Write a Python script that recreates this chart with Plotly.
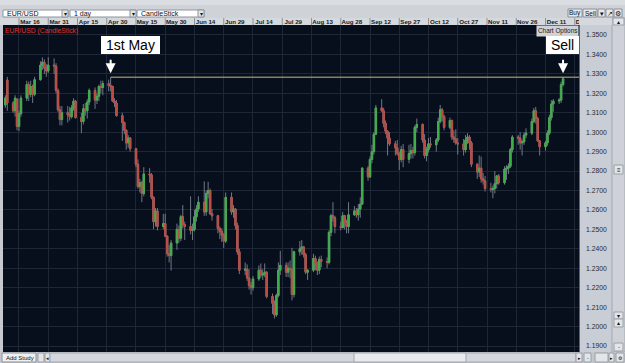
import pandas as pd
import plotly.graph_objects as go

# ---------------- data (EUR/USD daily) ----------------
dates = pd.bdate_range("2012-03-08", "2012-12-19")

open_ = [
    # Mar
    1.3140, 1.3268, 1.3150, 1.3110, 1.3170, 1.3030, 1.3095, 1.3175, 1.3245, 1.3195, 1.3235, 1.3195, 1.3270, 1.3345, 1.3360, 1.3330, 1.3315,
    # Apr
    1.3345, 1.3340, 1.3215, 1.3115, 1.3065, 1.3100, 1.3090, 1.3080, 1.3125, 1.3160, 1.3075, 1.3055, 1.3120, 1.3110, 1.3155, 1.3215, 1.3165, 1.3185, 1.3235, 1.3230, 1.3250,
    # May
    1.3240, 1.3235, 1.3160, 1.3150, 1.3085, 1.3050, 1.3010, 1.2945, 1.2970, 1.2915, 1.2835, 1.2720, 1.2740, 1.2685, 1.2785, 1.2780, 1.2665, 1.2540, 1.2595, 1.2515, 1.2530, 1.2465, 1.2375,
    # Jun
    1.2365, 1.2430, 1.2500, 1.2455, 1.2565, 1.2525, 1.2515, 1.2495, 1.2500, 1.2565, 1.2605, 1.2640, 1.2590, 1.2685, 1.2700, 1.2580, 1.2570, 1.2505, 1.2490, 1.2470, 1.2440,
    # Jul
    1.2665, 1.2590, 1.2605, 1.2520, 1.2385, 1.2290, 1.2295, 1.2250, 1.2210, 1.2200, 1.2245, 1.2290, 1.2265, 1.2270, 1.2280, 1.2155, 1.2120, 1.2060, 1.2160, 1.2290, 1.2315, 1.2280,
    # Aug
    1.2300, 1.2295, 1.2165, 1.2385, 1.2400, 1.2410, 1.2370, 1.2280, 1.2290, 1.2350, 1.2325, 1.2290, 1.2345, 1.2335, 1.2330, 1.2485, 1.2570, 1.2560, 1.2515, 1.2510, 1.2570, 1.2535, 1.2515,
    # Sep
    1.2575, 1.2595, 1.2575, 1.2605, 1.2630, 1.2815, 1.2770, 1.2860, 1.2900, 1.2990, 1.3125, 1.3110, 1.3045, 1.3005, 1.2970, 1.2940, 1.2920, 1.2890, 1.2860, 1.2910,
    # Oct
    1.2860, 1.2890, 1.2905, 1.2895, 1.3025, 1.3040, 1.2960, 1.2880, 1.2910, 1.2940, 1.2935, 1.2960, 1.3055, 1.3115, 1.3080, 1.3025, 1.3060, 1.2975, 1.2965, 1.2945, 1.2940, 1.2910, 1.2960,
    # Nov
    1.2975, 1.2945, 1.2835, 1.2795, 1.2815, 1.2760, 1.2750, 1.2710, 1.2705, 1.2710, 1.2735, 1.2775, 1.2740, 1.2810, 1.2815, 1.2825, 1.2910, 1.2975, 1.2970, 1.2945, 1.2950, 1.2985,
    # Dec
    1.2995, 1.3055, 1.3110, 1.3070, 1.2955, 1.2925, 1.2945, 1.2995, 1.3075, 1.3145, 1.3160, 1.3165, 1.3245,
]
high = [
    1.3190, 1.3285, 1.3160, 1.3190, 1.3175, 1.3110, 1.3190, 1.3265, 1.3260, 1.3265, 1.3245, 1.3285, 1.3365, 1.3385, 1.3375, 1.3350, 1.3385,
    1.3380, 1.3355, 1.3225, 1.3135, 1.3135, 1.3135, 1.3130, 1.3140, 1.3175, 1.3165, 1.3100, 1.3145, 1.3150, 1.3170, 1.3225, 1.3230, 1.3200, 1.3245, 1.3265, 1.3265, 1.3270,
    1.3283, 1.3240, 1.3175, 1.3165, 1.3100, 1.3055, 1.3015, 1.2985, 1.2975, 1.2920, 1.2860, 1.2760, 1.2750, 1.2820, 1.2815, 1.2790, 1.2670, 1.2610, 1.2610, 1.2580, 1.2580, 1.2470, 1.2420,
    1.2445, 1.2530, 1.2520, 1.2575, 1.2625, 1.2540, 1.2670, 1.2530, 1.2600, 1.2625, 1.2670, 1.2747, 1.2700, 1.2745, 1.2710, 1.2605, 1.2575, 1.2515, 1.2505, 1.2480, 1.2690,
    1.2690, 1.2625, 1.2610, 1.2535, 1.2400, 1.2330, 1.2320, 1.2295, 1.2230, 1.2260, 1.2315, 1.2325, 1.2295, 1.2325, 1.2285, 1.2170, 1.2135, 1.2170, 1.2330, 1.2390, 1.2330, 1.2330,
    1.2340, 1.2405, 1.2390, 1.2440, 1.2445, 1.2415, 1.2380, 1.2295, 1.2375, 1.2365, 1.2335, 1.2360, 1.2365, 1.2355, 1.2495, 1.2580, 1.2640, 1.2570, 1.2540, 1.2590, 1.2575, 1.2550, 1.2640,
    1.2620, 1.2610, 1.2630, 1.2665, 1.2820, 1.2825, 1.2875, 1.2935, 1.3000, 1.3140, 1.3170, 1.3125, 1.3060, 1.3010, 1.3000, 1.2955, 1.2960, 1.2900, 1.2930, 1.2940,
    1.2935, 1.2940, 1.2925, 1.3035, 1.3070, 1.3045, 1.2990, 1.2925, 1.2970, 1.2975, 1.2970, 1.3075, 1.3140, 1.3125, 1.3090, 1.3075, 1.3065, 1.3010, 1.3015, 1.2970, 1.2965, 1.2985, 1.2995,
    1.2985, 1.2955, 1.2840, 1.2880, 1.2875, 1.2790, 1.2775, 1.2740, 1.2725, 1.2800, 1.2780, 1.2785, 1.2825, 1.2830, 1.2840, 1.2920, 1.2985, 1.2985, 1.3000, 1.2960, 1.3000, 1.3020,
    1.3070, 1.3125, 1.3130, 1.3080, 1.2960, 1.2955, 1.3010, 1.3090, 1.3165, 1.3170, 1.3175, 1.3260, 1.3283,
]
low = [
    1.3125, 1.3110, 1.3100, 1.3080, 1.3010, 1.3005, 1.3080, 1.3160, 1.3160, 1.3180, 1.3150, 1.3185, 1.3265, 1.3320, 1.3300, 1.3285, 1.3305,
    1.3300, 1.3200, 1.3105, 1.3035, 1.3035, 1.3050, 1.3060, 1.3070, 1.3110, 1.3070, 1.2995, 1.3040, 1.3085, 1.3070, 1.3140, 1.3120, 1.3145, 1.3160, 1.3200, 1.3190, 1.3210,
    1.3210, 1.3155, 1.3130, 1.3080, 1.2955, 1.2990, 1.2910, 1.2920, 1.2900, 1.2820, 1.2710, 1.2690, 1.2640, 1.2670, 1.2740, 1.2655, 1.2500, 1.2515, 1.2495, 1.2500, 1.2460, 1.2360, 1.2330,
    1.2288, 1.2395, 1.2430, 1.2440, 1.2505, 1.2445, 1.2475, 1.2445, 1.2490, 1.2540, 1.2590, 1.2570, 1.2570, 1.2660, 1.2575, 1.2545, 1.2480, 1.2450, 1.2435, 1.2405, 1.2430,
    1.2575, 1.2560, 1.2500, 1.2370, 1.2270, 1.2265, 1.2235, 1.2190, 1.2165, 1.2185, 1.2235, 1.2250, 1.2240, 1.2255, 1.2145, 1.2065, 1.2042, 1.2050, 1.2150, 1.2265, 1.2255, 1.2255,
    1.2250, 1.2135, 1.2150, 1.2365, 1.2370, 1.2355, 1.2270, 1.2240, 1.2280, 1.2290, 1.2265, 1.2270, 1.2305, 1.2300, 1.2320, 1.2465, 1.2540, 1.2480, 1.2495, 1.2505, 1.2500, 1.2480, 1.2480,
    1.2570, 1.2560, 1.2545, 1.2560, 1.2625, 1.2750, 1.2765, 1.2840, 1.2885, 1.2985, 1.3105, 1.3025, 1.2990, 1.2880, 1.2930, 1.2880, 1.2880, 1.2805, 1.2845, 1.2820,
    1.2840, 1.2865, 1.2865, 1.2880, 1.3000, 1.2945, 1.2865, 1.2850, 1.2895, 1.2920, 1.2900, 1.2950, 1.3045, 1.3055, 1.3010, 1.3015, 1.2960, 1.2945, 1.2935, 1.2885, 1.2880, 1.2895, 1.2940,
    1.2910, 1.2820, 1.2760, 1.2770, 1.2740, 1.2730, 1.2695, 1.2690, 1.2660, 1.2685, 1.2710, 1.2730, 1.2730, 1.2755, 1.2785, 1.2815, 1.2895, 1.2935, 1.2910, 1.2880, 1.2935, 1.2970,
    1.2985, 1.3045, 1.3045, 1.2950, 1.2880, 1.2905, 1.2930, 1.2985, 1.3060, 1.3105, 1.3145, 1.3150, 1.3235,
]
close = [
    1.3176, 1.3150, 1.3110, 1.3175, 1.3030, 1.3095, 1.3175, 1.3245, 1.3195, 1.3235, 1.3195, 1.3270, 1.3345, 1.3360, 1.3330, 1.3315, 1.3345,
    1.3340, 1.3215, 1.3115, 1.3065, 1.3100, 1.3090, 1.3080, 1.3125, 1.3160, 1.3075, 1.3055, 1.3120, 1.3110, 1.3155, 1.3215, 1.3165, 1.3185, 1.3235, 1.3230, 1.3250, 1.3240,
    1.3235, 1.3160, 1.3150, 1.3085, 1.3050, 1.3010, 1.2945, 1.2970, 1.2915, 1.2835, 1.2720, 1.2740, 1.2685, 1.2785, 1.2780, 1.2665, 1.2540, 1.2595, 1.2515, 1.2530, 1.2465, 1.2375, 1.2365,
    1.2430, 1.2500, 1.2455, 1.2565, 1.2525, 1.2515, 1.2495, 1.2500, 1.2565, 1.2605, 1.2640, 1.2590, 1.2685, 1.2700, 1.2580, 1.2570, 1.2505, 1.2490, 1.2470, 1.2440, 1.2665,
    1.2590, 1.2605, 1.2520, 1.2385, 1.2290, 1.2295, 1.2250, 1.2210, 1.2200, 1.2245, 1.2290, 1.2265, 1.2270, 1.2280, 1.2155, 1.2120, 1.2060, 1.2160, 1.2290, 1.2315, 1.2280, 1.2300,
    1.2295, 1.2165, 1.2385, 1.2400, 1.2410, 1.2370, 1.2280, 1.2290, 1.2350, 1.2325, 1.2290, 1.2345, 1.2335, 1.2330, 1.2485, 1.2570, 1.2560, 1.2515, 1.2510, 1.2570, 1.2535, 1.2515, 1.2575,
    1.2595, 1.2575, 1.2605, 1.2630, 1.2815, 1.2770, 1.2860, 1.2900, 1.2990, 1.3125, 1.3110, 1.3045, 1.3005, 1.2970, 1.2940, 1.2920, 1.2890, 1.2860, 1.2910, 1.2860,
    1.2890, 1.2905, 1.2895, 1.3025, 1.3040, 1.2960, 1.2880, 1.2910, 1.2940, 1.2935, 1.2960, 1.3055, 1.3115, 1.3080, 1.3025, 1.3060, 1.2975, 1.2965, 1.2945, 1.2940, 1.2910, 1.2960, 1.2975,
    1.2945, 1.2835, 1.2795, 1.2815, 1.2760, 1.2750, 1.2710, 1.2705, 1.2710, 1.2735, 1.2775, 1.2740, 1.2810, 1.2815, 1.2825, 1.2910, 1.2975, 1.2970, 1.2945, 1.2950, 1.2985, 1.2995,
    1.3055, 1.3110, 1.3070, 1.2955, 1.2925, 1.2945, 1.2995, 1.3075, 1.3145, 1.3160, 1.3165, 1.3245, 1.3275,
]
n = len(dates)
assert all(len(a) == n for a in (open_, high, low, close)), [len(a) for a in (open_, high, low, close)]

x_tick_dates = ["2012-03-16", "2012-03-31", "2012-04-15", "2012-04-30", "2012-05-15",
                "2012-05-30", "2012-06-14", "2012-06-29", "2012-07-14", "2012-07-29",
                "2012-08-13", "2012-08-28", "2012-09-12", "2012-09-27", "2012-10-12",
                "2012-10-27", "2012-11-11", "2012-11-26", "2012-12-11", "2012-12-26"]
y_ticks = [1.19, 1.20, 1.21, 1.22, 1.23, 1.24, 1.25, 1.26, 1.27, 1.28, 1.29,
           1.30, 1.31, 1.32, 1.33, 1.34, 1.35]
level_date = "2012-05-01"          # resistance line drawn from the 1st May high
callouts = [("1st May", "2012-05-01"), ("Sell", "2012-12-19")]

# ---------------- geometry / style ----------------
W, H = 625, 363
PL, PR, PT, PB = 3, 579, 25, 352
X_RANGE = ["2012-03-07 19:10", "2012-12-28 04:20"]
Y_RANGE = [1.18693, 1.35514]

def px_x(px):
    return (px - PL) / (PR - PL)

def px_y(py):
    return (PB - py) / (PB - PT)

GREEN = "#3fae48"
RED = "#c04a40"
WICK = "#8a92a0"
BG = "#070f1d"
GRID = "#1d2738"
CHROME = "#c6cad0"

x_pos = dates + pd.Timedelta(days=1)   # candle drawn at the end of its session
body_hi = [max(o, c) for o, c in zip(open_, close)]
body_lo = [min(o, c) for o, c in zip(open_, close)]

fig = go.Figure()
fig.add_trace(go.Candlestick(
    x=x_pos, open=open_, high=high, low=low, close=close,
    increasing=dict(line=dict(color=WICK, width=0.8), fillcolor=WICK),
    decreasing=dict(line=dict(color=WICK, width=0.8), fillcolor=WICK),
    whiskerwidth=0, hoverinfo="skip", showlegend=False))
fig.add_trace(go.Candlestick(
    x=x_pos, open=open_, high=body_hi, low=body_lo, close=close,
    increasing=dict(line=dict(color=GREEN, width=0.8), fillcolor=GREEN),
    decreasing=dict(line=dict(color=RED, width=0.8), fillcolor=RED),
    whiskerwidth=0, hoverinfo="skip", showlegend=False))

i_lvl = list(dates).index(pd.Timestamp(level_date))
level = high[i_lvl]
fig.add_trace(go.Scatter(
    x=[x_pos[i_lvl], pd.Timestamp(X_RANGE[1])], y=[level, level], mode="lines",
    line=dict(color="#cdb77e", width=1), hoverinfo="skip", showlegend=False))

shapes = []
annots = []

def rect(x0, y0, x1, y1, fill, line=None, layer="below"):
    shapes.append(dict(type="rect", xref="paper", yref="paper",
                       x0=px_x(x0), x1=px_x(x1), y0=px_y(y1), y1=px_y(y0),
                       fillcolor=fill, layer=layer,
                       line=dict(color=line if line else fill, width=1 if line else 0)))

def text(px, py, s, size=7, color="#111", xanchor="left", family="Liberation Sans"):
    annots.append(dict(xref="paper", yref="paper", x=px_x(px), y=px_y(py), text=s,
                       showarrow=False, xanchor=xanchor, yanchor="middle",
                       font=dict(size=size, color=color, family=family)))

# top toolbar
rect(0, 0, 625, 18, "#cfd2d7")
rect(0, 0, 625, 5, "#dadde1")
for (a, b, label) in [(3, 68, "EUR/USD"), (70, 136, "1 day"), (137, 204, "CandleStick")]:
    rect(a, 10, b, 17, "#ffffff", "#8f959e")
    rect(b - 6, 10, b, 17, "#e3e5e9", "#8f959e")
    text(a + 2, 13.6, label, size=7)
    text(b - 3, 13.6, "▾", size=6, xanchor="center")
for (a, b, label) in [(568, 582, "Buy"), (583, 597, "Sell"), (598, 605, "▾"), (606, 613, "↗"), (614, 622, "⚙")]:
    rect(a, 9, b, 17, "#e6e8eb", "#8c9199")
    text((a + b) / 2, 13.2, label, size=6.5, xanchor="center")

# date header row
rect(0, 18, 611, 25, "#d5d8dd")
for d in x_tick_dates:
    shapes.append(dict(type="line", xref="x", yref="paper", x0=d, x1=d,
                       y0=1, y1=px_y(18), line=dict(color="#8d939b", width=1), layer="below"))
# right price panel + scrollbar
rect(579, 25, 612, 352, "#c9ced6")
shapes.append(dict(type="line", xref="paper", yref="paper", x0=px_x(579.5), x1=px_x(579.5),
                   y0=0, y1=1, line=dict(color="#5d636c", width=1), layer="below"))
rect(579, 18, 612, 25, "#d5d8dd", layer="above")
rect(612, 18, 625, 352, "#ced2d8", "#a3a8b0")
rect(613, 18, 624, 25, "#e3e5e8", "#9aa0a8")
text(618.5, 21.5, "▴", size=6, xanchor="center")
rect(614, 165, 623, 174, "#e3e5e8", "#9aa0a8")
text(618.5, 169.5, "≡", size=6, xanchor="center")
for (a, b, s) in [(312, 319, "▾"), (319, 327, "▴"), (343, 351, "-")]:
    rect(614, a, 623, b, "#e3e5e8", "#9aa0a8")
    text(618.5, (a + b) / 2, s, size=5.5, xanchor="center")

# bottom bar
rect(0, 352, 625, 363, "#c3c7cd")
rect(2, 353, 36, 362, "#eef0f2", "#8d929a")
text(3.5, 357.7, "Add Study", size=6.0)
rect(38, 353, 44, 362, "#e3e5e8", "#9aa0a8")
rect(45, 353, 50, 362, "#e3e5e8", "#9aa0a8")
text(47.5, 357.5, "◂", size=5, xanchor="center")
rect(50, 353, 576, 362, "#d3d6db", "#a3a8b0")
rect(354, 353, 466, 362, "#e7e9ec", "#a3a8b0")
for (a, b, s) in [(576, 582, "▸"), (584, 591, "-"), (595, 608, ""), (609, 614, "▸"), (616, 624, "⚙")]:
    rect(a, 353, b, 362, "#e3e5e8", "#9aa0a8")
    if s:
        text((a + b) / 2, 357.5, s, size=5, xanchor="center")

# in-plot labels
annots.append(dict(xref="paper", yref="paper", x=0, y=1, xanchor="left", yanchor="top",
                   text="EUR/USD (CandleStick)", showarrow=False, yshift=0, xshift=0,
                   font=dict(size=6.8, color="#e0322a", family="Liberation Sans")))
annots.append(dict(xref="paper", yref="paper", x=1, y=1, xanchor="right", yanchor="top",
                   text="Chart Options", showarrow=False, bgcolor="#cfd3d9", borderpad=1,
                   font=dict(size=6.4, color="#1a1a1a", family="Liberation Sans")))

# callouts: white label box + white arrow down to the candle high
for label, d in callouts:
    i = list(dates).index(pd.Timestamp(d))
    xa = "left" if label == "1st May" else "center"
    xs = -10 if label == "1st May" else -1
    annots.append(dict(xref="x", yref="y", x=x_pos[i], y=high[i], text="\u00a0" + label + "\u00a0",
                       showarrow=False, xanchor=xa, yanchor="bottom", xshift=xs, yshift=23,
                       bgcolor="#ffffff", bordercolor="#ffffff", borderwidth=1, borderpad=0,
                       font=dict(size=14, color="#000000", family="Liberation Sans")))
    annots.append(dict(xref="x", yref="y", x=x_pos[i], y=high[i], text="", yshift=4,
                       showarrow=True, ax=0, ay=-15, arrowhead=2, arrowsize=1,
                       arrowwidth=2, arrowcolor="#ffffff", standoff=0))

fig.update_layout(
    width=W, height=H,
    margin=dict(l=PL, r=W - PR, t=PT, b=H - PB, pad=0),
    paper_bgcolor=CHROME, plot_bgcolor=BG,
    showlegend=False, boxgap=0.25, boxgroupgap=0, boxmode="overlay",
    shapes=shapes, annotations=annots,
    xaxis=dict(type="date", range=X_RANGE, side="top", rangeslider=dict(visible=False),
               tickvals=x_tick_dates,
               ticktext=["<b>" + pd.Timestamp(d).strftime("%b %d") + "</b>" for d in x_tick_dates],
               tickfont=dict(size=6.2, color="#1a1a1a", family="Liberation Sans"),
               ticks="", ticklabelshift=11, ticklabelstandoff=-1,
               showgrid=True, gridcolor=GRID, gridwidth=1, zeroline=False, showline=False,
               fixedrange=True),
    yaxis=dict(range=Y_RANGE, side="right", tickvals=y_ticks,
               ticktext=[f"{v:.4f}" for v in y_ticks],
               tickfont=dict(size=6.8, color="#2a2a2a", family="Liberation Sans"),
               ticks="", ticklabelstandoff=6,
               showgrid=True, gridcolor=GRID, gridwidth=1, zeroline=False, showline=False,
               fixedrange=True),
)

fig.write_html("out.html")
